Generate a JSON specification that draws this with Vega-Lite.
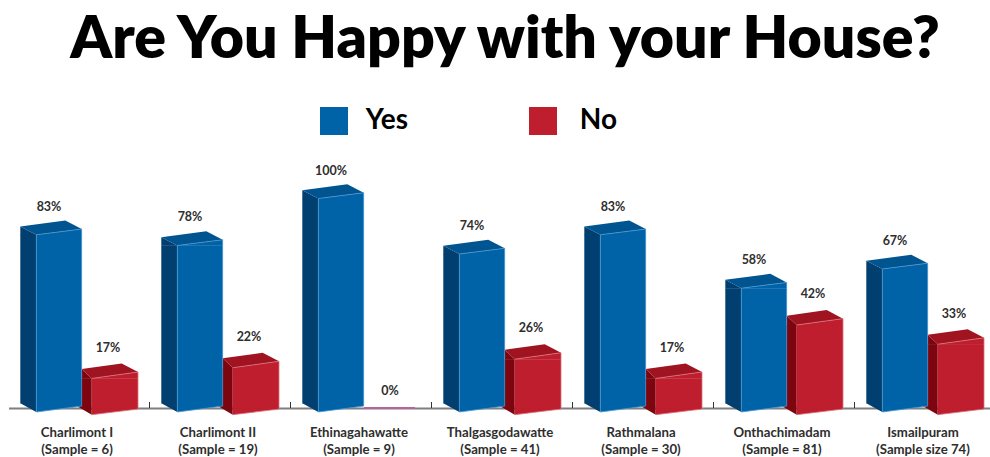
{
  "$schema": "https://vega.github.io/schema/vega-lite/v6.json",
  "width": 990,
  "height": 357,
  "autosize": {"type": "none"},
  "padding": {"top": 100, "left": 0, "right": 0, "bottom": 0},
  "background": "white",
  "title": {
    "text": "Are You Happy with your House?",
    "font": "Lato",
    "fontWeight": 800,
    "fontSize": 59,
    "color": "#000000",
    "anchor": "middle",
    "frame": "group",
    "dx": 10,
    "offset": 30
  },
  "datasets": {
    "survey": [
      {"site": "Charlimont I\n(Sample = 6)", "answer": "Yes", "share": 0.83},
      {"site": "Charlimont I\n(Sample = 6)", "answer": "No", "share": 0.17},
      {"site": "Charlimont II\n(Sample = 19)", "answer": "Yes", "share": 0.78},
      {"site": "Charlimont II\n(Sample = 19)", "answer": "No", "share": 0.22},
      {"site": "Ethinagahawatte\n(Sample = 9)", "answer": "Yes", "share": 1.0},
      {"site": "Ethinagahawatte\n(Sample = 9)", "answer": "No", "share": 0.0},
      {"site": "Thalgasgodawatte\n(Sample = 41)", "answer": "Yes", "share": 0.74},
      {"site": "Thalgasgodawatte\n(Sample = 41)", "answer": "No", "share": 0.26},
      {"site": "Rathmalana\n(Sample = 30)", "answer": "Yes", "share": 0.83},
      {"site": "Rathmalana\n(Sample = 30)", "answer": "No", "share": 0.17},
      {"site": "Onthachimadam\n(Sample = 81)", "answer": "Yes", "share": 0.58},
      {"site": "Onthachimadam\n(Sample = 81)", "answer": "No", "share": 0.42},
      {"site": "Ismailpuram\n(Sample size 74)", "answer": "Yes", "share": 0.67},
      {"site": "Ismailpuram\n(Sample size 74)", "answer": "No", "share": 0.33}
    ]
  },
  "data": {"name": "survey"},
  "encoding": {
    "x": {
      "field": "site",
      "type": "nominal",
      "sort": null,
      "scale": {
        "type": "band",
        "domain": [
          "Charlimont I\n(Sample = 6)",
          "Charlimont II\n(Sample = 19)",
          "Ethinagahawatte\n(Sample = 9)",
          "Thalgasgodawatte\n(Sample = 41)",
          "Rathmalana\n(Sample = 30)",
          "Onthachimadam\n(Sample = 81)",
          "Ismailpuram\n(Sample size 74)"
        ],
        "range": [8.5, 995.5],
        "paddingInner": 0,
        "paddingOuter": 0
      },
      "axis": {
        "title": null,
        "orient": "bottom",
        "offset": -49,
        "labelExpr": "split(datum.label, '\\n')",
        "labelAngle": 0,
        "labelFont": "Lato",
        "labelFontWeight": "bold",
        "labelFontSize": 13.2,
        "labelColor": "#2e2e2e",
        "labelLineHeight": 17,
        "labelPadding": 18,
        "labelOffset": -2,
        "labelOverlap": false,
        "domainColor": "#7f7f7f",
        "domainWidth": 2,
        "ticks": false,
        "tickSize": 0,
        "grid": false
      }
    },
    "y": {
      "field": "share",
      "type": "quantitative",
      "stack": null,
      "scale": {"domain": [0, 1], "range": [312, 98.5], "nice": false, "zero": true},
      "axis": null
    }
  },
  "layer": [
    {
      "mark": {"type": "bar", "width": 1, "opacity": 0},
      "encoding": {
        "color": {
          "field": "answer",
          "type": "nominal",
          "scale": {"domain": ["Yes", "No"], "range": ["#0063a7", "#be1e2d"]},
          "legend": {
            "title": null,
            "orient": "none",
            "legendX": 320,
            "legendY": 7,
            "direction": "horizontal",
            "symbolType": "square",
            "symbolSize": 784,
            "symbolStrokeWidth": 0,
            "symbolOpacity": 1,
            "labelFont": "Lato",
            "labelFontWeight": "bold",
            "labelFontSize": 28,
            "labelColor": "#000000",
            "labelOpacity": 1,
            "labelAlign": "right",
            "labelOffset": 60,
            "columnPadding": 121,
            "padding": 0
          }
        }
      }
    },
    {
      "transform": [{"filter": "datum.answer === 'Yes'"}],
      "mark": {"type": "point", "filled": false, "size": 4, "opacity": 1, "strokeWidth": 1, "stroke": "#333333", "shape": "M70.5 -10L70.5 -4"},
      "encoding": {"y": {"datum": 0}}
    },
    {
      "transform": [{"filter": "datum.answer === 'No' && datum.share > 0"}],
      "layer": [
        {
          "mark": {"type": "bar", "width": 14, "xOffset": 5.7, "yOffset": 2.7, "y2Offset": -5.6, "fill": "#7d0510"},
          "encoding": {"y2": {"datum": 0}}
        },
        {
          "mark": {"type": "point", "filled": true, "size": 4, "opacity": 1, "strokeWidth": 0, "fill": "#7d0510", "shape": "M2.7 -6.7L12.7 2.7L12.7 3.1L2.7 3.1Z"}
        },
        {
          "mark": {"type": "point", "filled": true, "size": 4, "opacity": 1, "strokeWidth": 0, "fill": "#7d0510", "shape": "M-1.3 -6L12.7 -6L12.7 2.7L-1.3 -5.6Z"},
          "encoding": {"y": {"datum": 0}}
        },
        {
          "mark": {"type": "point", "filled": true, "size": 4, "opacity": 1, "strokeWidth": 0, "fill": "#9f1420", "shape": "M2.7 -6.7L12.7 2.7L59 -3.7L42.7 -12.3Z"}
        },
        {
          "mark": {"type": "bar", "width": 46.3, "xOffset": 35.85, "yOffset": 2.7, "y2Offset": -2.9, "fill": "#be1e2d"},
          "encoding": {"y2": {"datum": 0}}
        },
        {
          "mark": {"type": "point", "filled": true, "size": 4, "opacity": 1, "strokeWidth": 0, "fill": "#be1e2d", "shape": "M12.7 2.7L59 -3.7L59 3.1L12.7 3.1Z"}
        },
        {
          "mark": {"type": "point", "filled": true, "size": 4, "opacity": 1, "strokeWidth": 0, "fill": "#be1e2d", "shape": "M12.7 -3.3L59 -3.3L59 -2.9L12.7 2.7Z"},
          "encoding": {"y": {"datum": 0}}
        },
        {
          "mark": {"type": "bar", "width": 0.8, "xOffset": 59, "yOffset": -3.7, "y2Offset": -2.9, "fill": "#d9737c"},
          "encoding": {"y2": {"datum": 0}}
        },
        {
          "mark": {"type": "point", "filled": false, "size": 4, "opacity": 1, "strokeWidth": 0.8, "stroke": "#d9737c", "shape": "M12.7 2.7L59 -3.7"}
        },
        {
          "mark": {"type": "point", "filled": false, "size": 4, "opacity": 1, "strokeWidth": 0.8, "stroke": "#d9737c", "shape": "M12.7 2.7L59 -2.9"},
          "encoding": {"y": {"datum": 0}}
        }
      ]
    },
    {
      "transform": [{"filter": "datum.answer === 'No' && datum.share === 0"}],
      "mark": {"type": "point", "filled": true, "size": 4, "opacity": 1, "strokeWidth": 0, "fill": "#b5659a", "shape": "M3 -4.9L54 -4.9L54 -3.1L3 -3.1Z"}
    },
    {
      "transform": [{"filter": "datum.answer === 'Yes'"}],
      "layer": [
        {
          "mark": {"type": "bar", "width": 16, "xOffset": -50.7, "y2Offset": -8.7, "fill": "#003f70"},
          "encoding": {"y2": {"datum": 0}}
        },
        {
          "mark": {"type": "point", "filled": true, "size": 4, "opacity": 1, "strokeWidth": 0, "fill": "#003f70", "shape": "M-58.7 -8.3L-42.7 0L-42.7 0.4L-58.7 0.4Z"}
        },
        {
          "mark": {"type": "point", "filled": true, "size": 4, "opacity": 1, "strokeWidth": 0, "fill": "#003f70", "shape": "M-58.7 -9.1L-42.7 -9.1L-42.7 0L-58.7 -8.7Z"},
          "encoding": {"y": {"datum": 0}}
        },
        {
          "mark": {"type": "point", "filled": true, "size": 4, "opacity": 1, "strokeWidth": 0, "fill": "#005490", "shape": "M-58.7 -8.3L-42.7 0L2.7 -5.7L-13.7 -14.3Z"}
        },
        {
          "mark": {"type": "bar", "width": 45.4, "xOffset": -20, "y2Offset": -5.9, "fill": "#0063a7"},
          "encoding": {"y2": {"datum": 0}}
        },
        {
          "mark": {"type": "point", "filled": true, "size": 4, "opacity": 1, "strokeWidth": 0, "fill": "#0063a7", "shape": "M-42.7 0L2.7 -5.7L2.7 0.4L-42.7 0.4Z"}
        },
        {
          "mark": {"type": "point", "filled": true, "size": 4, "opacity": 1, "strokeWidth": 0, "fill": "#0063a7", "shape": "M-42.7 -6.3L2.7 -6.3L2.7 -5.9L-42.7 0Z"},
          "encoding": {"y": {"datum": 0}}
        },
        {
          "mark": {"type": "bar", "width": 0.8, "xOffset": 2.7, "yOffset": -5.7, "y2Offset": -5.9, "fill": "#4a95d1"},
          "encoding": {"y2": {"datum": 0}}
        },
        {
          "mark": {"type": "bar", "width": 0.8, "xOffset": -42.7, "y2Offset": 0, "fill": "#4a95d1"},
          "encoding": {"y2": {"datum": 0}}
        },
        {
          "mark": {"type": "point", "filled": false, "size": 4, "opacity": 1, "strokeWidth": 0.8, "stroke": "#4a95d1", "shape": "M-42.7 0L2.7 -5.7"}
        },
        {
          "mark": {"type": "point", "filled": false, "size": 4, "opacity": 1, "strokeWidth": 0.8, "stroke": "#4a95d1", "shape": "M-42.7 0L2.7 -5.9"},
          "encoding": {"y": {"datum": 0}}
        }
      ]
    },
    {
      "transform": [{"filter": "datum.answer === 'Yes'"}],
      "mark": {"type": "text", "font": "Lato", "fontWeight": "bold", "fontSize": 12.5, "color": "#2e2e2e", "xOffset": -30, "yOffset": -28, "baseline": "middle"},
      "encoding": {"text": {"field": "share", "type": "quantitative", "format": ".0%"}}
    },
    {
      "transform": [{"filter": "datum.answer === 'No' && datum.share > 0"}],
      "mark": {"type": "text", "font": "Lato", "fontWeight": "bold", "fontSize": 12.5, "color": "#2e2e2e", "xOffset": 29, "yOffset": -28, "baseline": "middle"},
      "encoding": {"text": {"field": "share", "type": "quantitative", "format": ".0%"}}
    },
    {
      "transform": [{"filter": "datum.answer === 'No' && datum.share === 0"}],
      "mark": {"type": "text", "font": "Lato", "fontWeight": "bold", "fontSize": 12.5, "color": "#2e2e2e", "xOffset": 29, "yOffset": -21, "baseline": "middle"},
      "encoding": {"text": {"field": "share", "type": "quantitative", "format": ".0%"}}
    }
  ],
  "config": {"view": {"stroke": null}}
}
